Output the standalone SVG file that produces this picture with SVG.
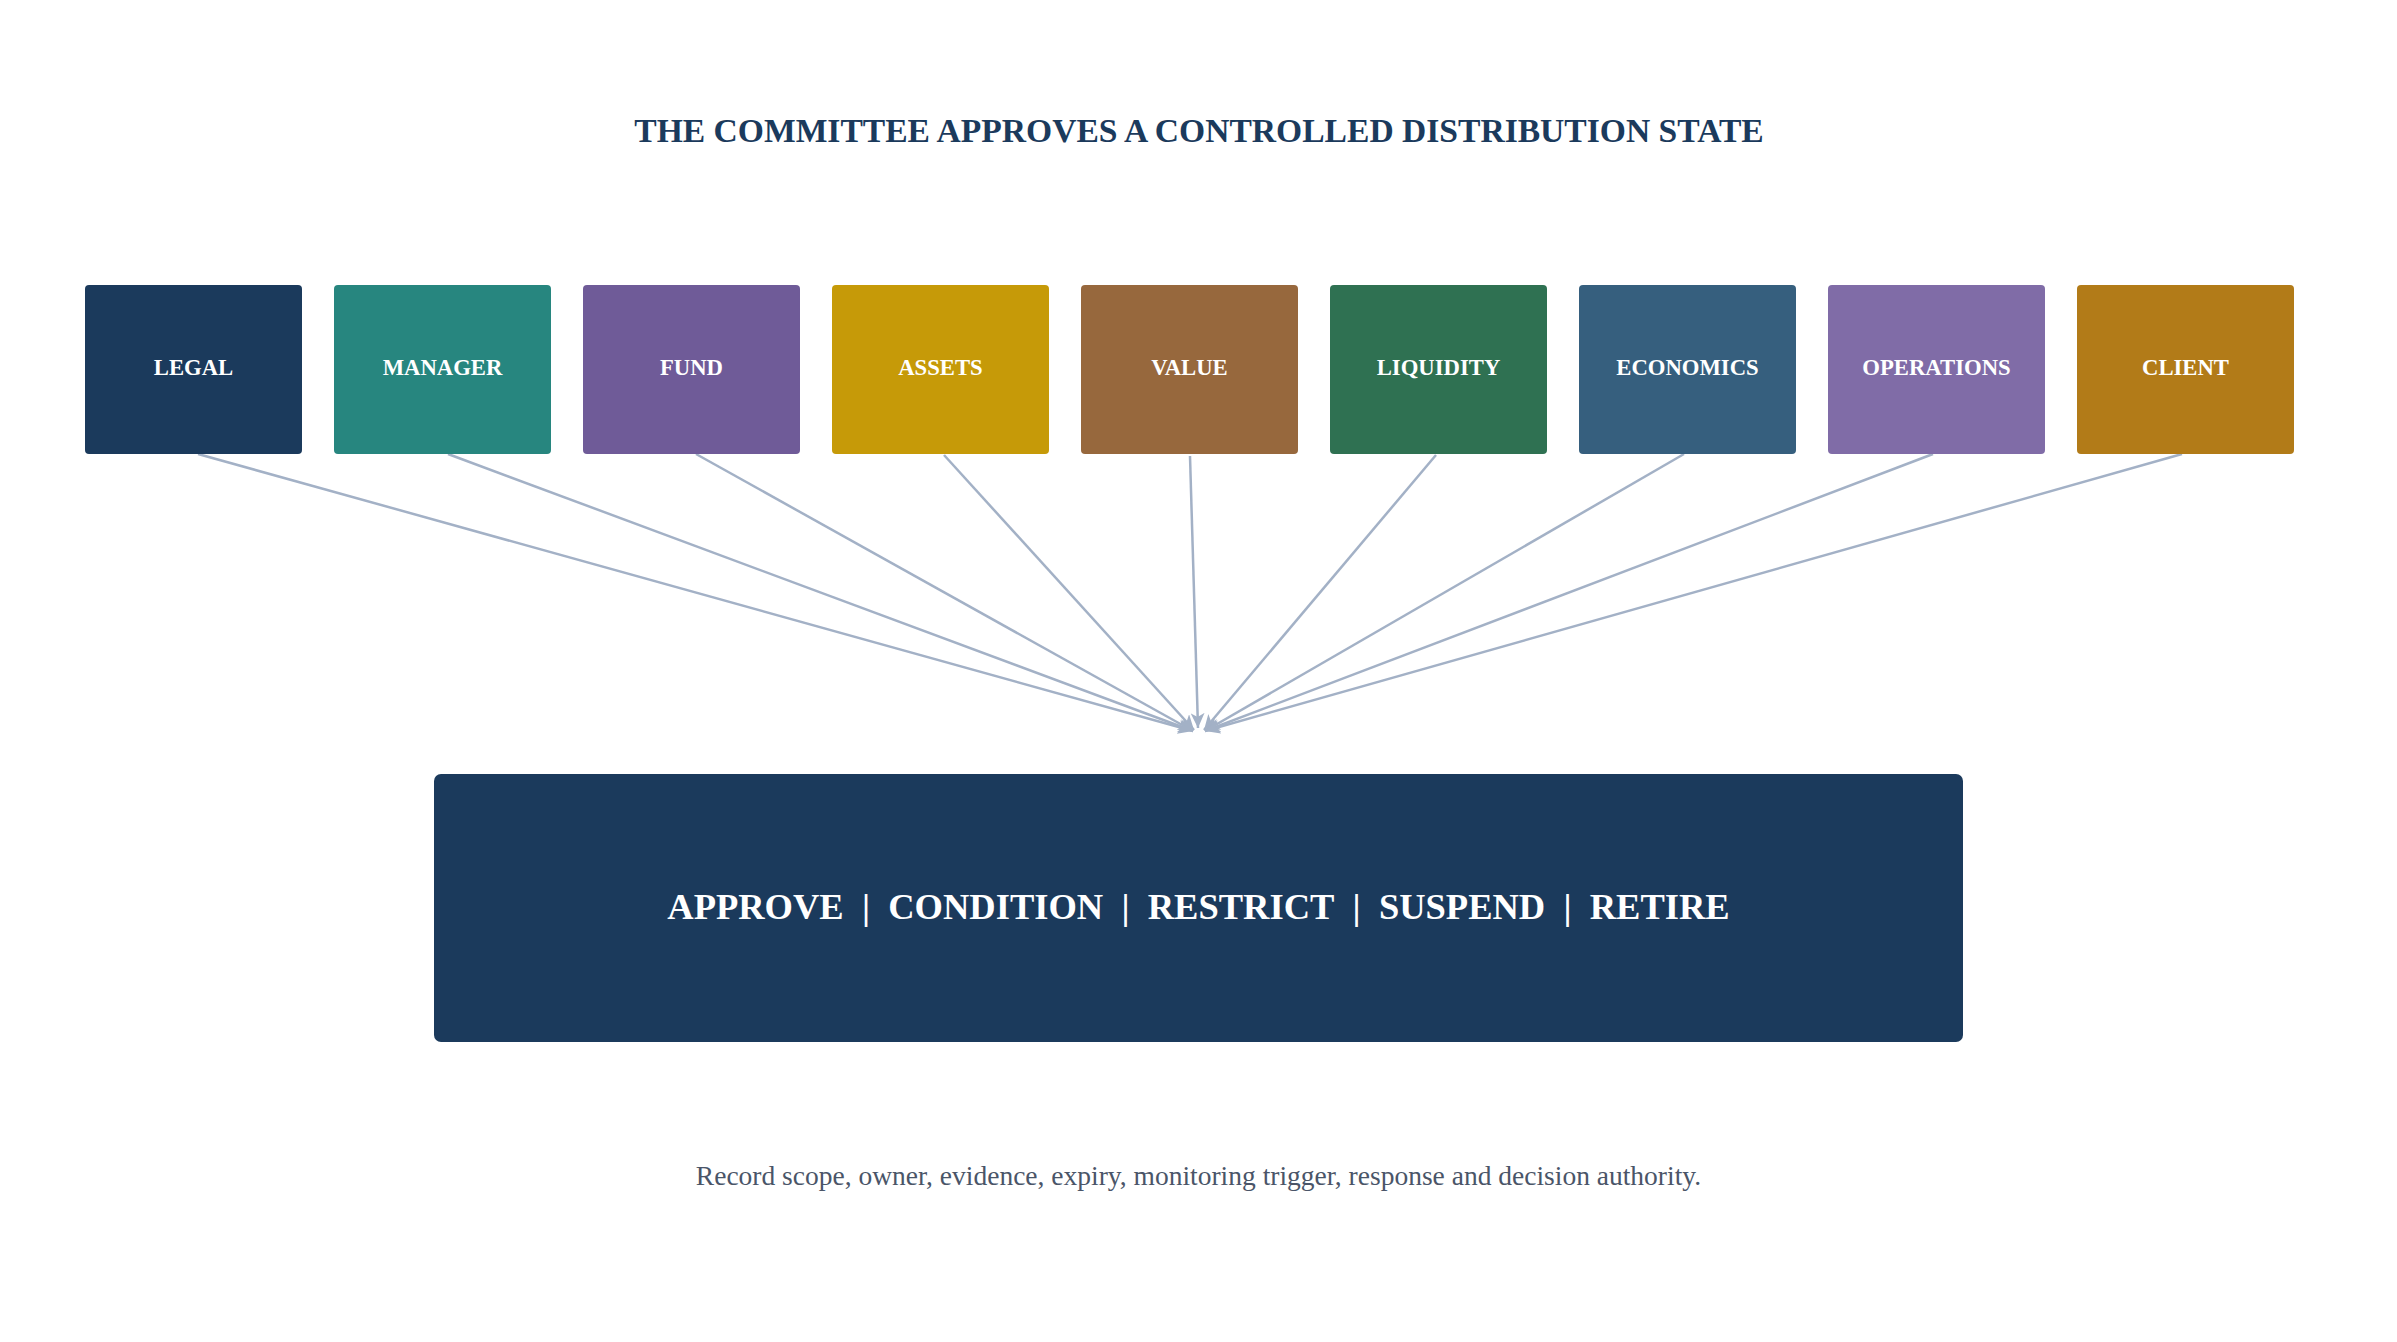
<svg xmlns="http://www.w3.org/2000/svg" width="2397" height="1342" viewBox="0 0 2397 1342">
  <style>
    .title { font-family: "Liberation Serif", "Times New Roman", serif; font-weight: bold; font-size: 33.6px; fill: #1b3a5c; text-anchor: middle; }
    .lbl { font-family: "Liberation Serif", "Times New Roman", serif; font-weight: bold; font-size: 22.7px; fill: #ffffff; text-anchor: middle; }
    .big { font-family: "Liberation Serif", "Times New Roman", serif; font-weight: bold; font-size: 36.5px; fill: #ffffff; text-anchor: middle; }
    .foot { font-family: "Liberation Serif", "Times New Roman", serif; font-size: 27.5px; fill: #4a5568; text-anchor: middle; }
    .conn { stroke: #a3b1c6; stroke-width: 2.5; fill: none; marker-end: url(#arrow); }
  </style>
  <defs>
    <marker id="arrow" markerUnits="userSpaceOnUse" markerWidth="16" markerHeight="14" refX="15" refY="7" orient="auto">
      <path d="M0,0 L15,7 L0,14 L4,7 z" fill="#a3b1c6"/>
    </marker>
  </defs>
  <rect x="0" y="0" width="2397" height="1342" fill="#ffffff"/>
  <text class="title" x="1199" y="142">THE COMMITTEE APPROVES A CONTROLLED DISTRIBUTION STATE</text>

  <g id="connectors">
    <line class="conn" x1="198" y1="454" x2="1193" y2="731"/>
    <line class="conn" x1="448" y1="454" x2="1193" y2="731"/>
    <line class="conn" x1="696" y1="454" x2="1193" y2="731"/>
    <line class="conn" x1="944" y1="455" x2="1194" y2="730"/>
    <line class="conn" x1="1190" y1="456" x2="1198" y2="728"/>
    <line class="conn" x1="1436" y1="455" x2="1204" y2="730"/>
    <line class="conn" x1="1684" y1="454" x2="1205" y2="731"/>
    <line class="conn" x1="1933" y1="454" x2="1205" y2="731"/>
    <line class="conn" x1="2182" y1="454" x2="1205" y2="731"/>
  </g>

  <g id="node-legal"><rect x="85" y="285" width="217" height="169" rx="4" fill="#1b3a5c"/><text class="lbl" x="193.5" y="375">LEGAL</text></g>
  <g id="node-manager"><rect x="334" y="285" width="217" height="169" rx="4" fill="#27867f"/><text class="lbl" x="442.5" y="375">MANAGER</text></g>
  <g id="node-fund"><rect x="583" y="285" width="217" height="169" rx="4" fill="#6f5b98"/><text class="lbl" x="691.5" y="375">FUND</text></g>
  <g id="node-assets"><rect x="832" y="285" width="217" height="169" rx="4" fill="#c69a08"/><text class="lbl" x="940.5" y="375">ASSETS</text></g>
  <g id="node-value"><rect x="1081" y="285" width="217" height="169" rx="4" fill="#97683d"/><text class="lbl" x="1189.5" y="375">VALUE</text></g>
  <g id="node-liquidity"><rect x="1330" y="285" width="217" height="169" rx="4" fill="#2f7152"/><text class="lbl" x="1438.5" y="375">LIQUIDITY</text></g>
  <g id="node-economics"><rect x="1579" y="285" width="217" height="169" rx="4" fill="#365f7e"/><text class="lbl" x="1687.5" y="375">ECONOMICS</text></g>
  <g id="node-operations"><rect x="1828" y="285" width="217" height="169" rx="4" fill="#806ca7"/><text class="lbl" x="1936.5" y="375">OPERATIONS</text></g>
  <g id="node-client"><rect x="2077" y="285" width="217" height="169" rx="4" fill="#b27b18"/><text class="lbl" x="2185.5" y="375">CLIENT</text></g>

  <g id="node-decision">
    <rect x="434" y="774" width="1529" height="268" rx="7" fill="#1b3a5c"/>
    <text class="big" x="1198.5" y="919">APPROVE&#160;&#160;|&#160;&#160;CONDITION&#160;&#160;|&#160;&#160;RESTRICT&#160;&#160;|&#160;&#160;SUSPEND&#160;&#160;|&#160;&#160;RETIRE</text>
  </g>

  <text class="foot" x="1198.5" y="1185">Record scope, owner, evidence, expiry, monitoring trigger, response and decision authority.</text>
</svg>
